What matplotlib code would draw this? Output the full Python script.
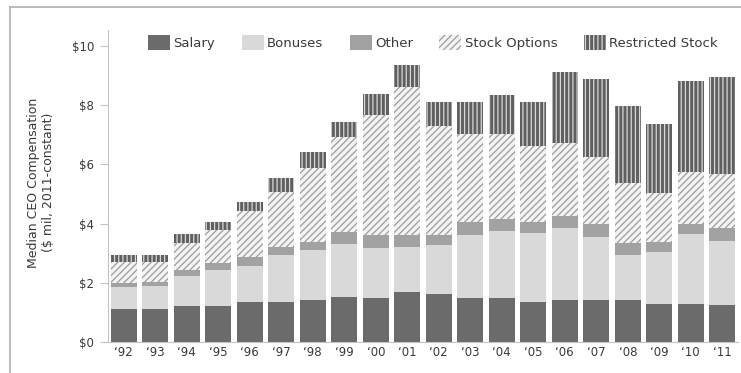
import matplotlib
matplotlib.use("Agg")
import matplotlib.pyplot as plt
import numpy as np

# median CEO pay, $ mil (2011-constant), cumulative tops
years = ["‘92", "‘93", "‘94", "‘95", "‘96", "‘97", "‘98", "‘99", "‘00", "‘01",
         "‘02", "‘03", "‘04", "‘05", "‘06", "‘07", "‘08", "‘09", "‘10", "‘11"]
salary_top = [1.11, 1.11, 1.22, 1.22, 1.36, 1.36, 1.42, 1.53, 1.48, 1.68,
              1.63, 1.48, 1.48, 1.36, 1.42, 1.42, 1.42, 1.30, 1.30, 1.25]
bonus_top = [1.86, 1.89, 2.23, 2.43, 2.58, 2.94, 3.10, 3.30, 3.17, 3.22,
             3.27, 3.63, 3.75, 3.69, 3.85, 3.55, 2.94, 3.04, 3.64, 3.41]
other_top = [2.00, 2.03, 2.43, 2.67, 2.88, 3.21, 3.37, 3.72, 3.60, 3.62,
             3.63, 4.04, 4.15, 4.04, 4.26, 4.00, 3.33, 3.37, 3.99, 3.84]
options_top = [2.70, 2.70, 3.35, 3.78, 4.43, 5.07, 5.88, 6.93, 7.67, 8.60,
               7.30, 7.03, 7.03, 6.62, 6.72, 6.25, 5.37, 5.04, 5.74, 5.67]
total_top = [2.94, 2.95, 3.65, 4.05, 4.73, 5.54, 6.42, 7.43, 8.38, 9.36,
             8.10, 8.10, 8.34, 8.10, 9.12, 8.88, 7.97, 7.36, 8.82, 8.95]

salary = np.array(salary_top)
bonuses = np.array(bonus_top) - np.array(salary_top)
other = np.array(other_top) - np.array(bonus_top)
options = np.array(options_top) - np.array(other_top)
restricted = np.array(total_top) - np.array(options_top)

plt.rcParams["font.family"] = "DejaVu Sans"
plt.rcParams["hatch.linewidth"] = 0.9

fig = plt.figure(figsize=(7.41, 3.73), dpi=100)
ax = fig.add_axes([108 / 741, 31 / 373, 630 / 741, 312 / 373])

x = np.arange(len(years))
w = 0.84
ax.bar(x, salary, w, color="#6b6b6b", linewidth=0, label="Salary")
ax.bar(x, bonuses, w, bottom=salary, color="#d9d9d9", linewidth=0,
       label="Bonuses")
ax.bar(x, other, w, bottom=salary + bonuses, color="#a2a2a2", linewidth=0,
       label="Other")
ax.bar(x, options, w, bottom=salary + bonuses + other, facecolor="#f3f3f3",
       edgecolor="#9c9c9c", hatch="/////", linewidth=0, label="Stock Options")
ax.bar(x, restricted, w, bottom=salary + bonuses + other + options,
       facecolor="#5f5f5f", edgecolor="#d8d8d8", hatch="||||", linewidth=0,
       label="Restricted Stock")

ax.set_xlim(-0.5, len(years) - 0.5)
ax.set_ylim(0, 10.54)
ax.set_yticks([0, 2, 4, 6, 8, 10])
ax.set_yticklabels(["$0", "$2", "$4", "$6", "$8", "$10"])
ax.set_xticks(x)
ax.set_xticklabels(years)

for s in ["top", "right"]:
    ax.spines[s].set_visible(False)
ax.spines["left"].set_color("#c4c4c4")
ax.spines["bottom"].set_color("#c4c4c4")
ax.spines["left"].set_linewidth(0.8)
ax.spines["bottom"].set_linewidth(0.8)
ax.tick_params(axis="y", length=6, width=0.8, color="#c4c4c4", pad=4,
               labelsize=8.5, labelcolor="#3a3a3a")
ax.tick_params(axis="x", length=0, pad=3, labelsize=8.5, labelcolor="#3a3a3a")

fig.text(41 / 741, 0.51, "Median CEO Compensation\n($ mil, 2011-constant)",
         rotation=90, ha="center", va="center", fontsize=9,
         color="#3a3a3a", linespacing=1.2)

ax.legend(ncol=5, frameon=False, fontsize=9.5, handlelength=1.67,
          handleheight=1.35, handletextpad=0.25, columnspacing=2.0,
          loc="upper center", bbox_to_anchor=(433 / 741, 350 / 373),
          bbox_transform=fig.transFigure, labelcolor="#3a3a3a")

# outer frame, only top and left edges fall inside the picture
fig.add_artist(plt.Line2D([10 / 741, 1], [366 / 373, 366 / 373],
                          transform=fig.transFigure, color="#b0b0b0", lw=1.2))
fig.add_artist(plt.Line2D([10 / 741, 10 / 741], [0, 366 / 373],
                          transform=fig.transFigure, color="#b0b0b0", lw=1.2))

fig.savefig("out.png", dpi=100)
